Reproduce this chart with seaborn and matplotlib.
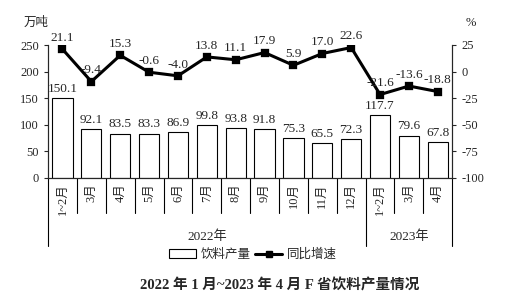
import numpy as np
import pandas as pd
import matplotlib.pyplot as plt
import seaborn as sns
from matplotlib.patches import Patch
from matplotlib.lines import Line2D

sns.set_style('ticks')
plt.rcParams['font.family'] = ['Liberation Serif', 'Noto Sans CJK SC']
plt.rcParams['axes.unicode_minus'] = False

months = ['1~2月', '3月', '4月', '5月', '6月', '7月', '8月', '9月', '10月', '11月', '12月',
          '1~2月', '3月', '4月']
years = ['2022年'] * 11 + ['2023年'] * 3
output = [150.1, 92.1, 83.5, 83.3, 86.9, 99.8, 93.8, 91.8, 75.3, 65.5, 72.3, 117.7, 79.6, 67.8]
growth = [21.1, -9.4, 15.3, -0.6, -4.0, 13.8, 11.1, 17.9, 5.9, 17.0, 22.6, -21.6, -13.6, -18.8]

df = pd.DataFrame({'key': [y + m for y, m in zip(years, months)],
                   'output': output, 'growth': growth})
n = len(df)

fig = plt.figure(figsize=(5.11, 3.0), dpi=100)
ax = fig.add_axes([0.094, 0.407, 0.791, 0.443])
sns.barplot(data=df, x='key', y='output', ax=ax, color='white', edgecolor='black',
            linewidth=0.8, width=0.7, saturation=1)
ax2 = ax.twinx()
sns.pointplot(data=df, x='key', y='growth', ax=ax2, color='black', markers='s',
              markersize=5, linewidth=2.2)

ax.set_ylim(0, 250)
ax.set_yticks(range(0, 251, 50))
ax2.set_ylim(-100, 25)
ax2.set_yticks(range(-100, 26, 25))
ax.set_xlim(-0.5, n - 0.5)
ax2.set_xlim(-0.5, n - 0.5)
for a in (ax, ax2):
    a.set_xlabel('')
    a.set_ylabel('')
    a.set_xticks([])
    a.spines['top'].set_visible(False)
    a.tick_params(labelsize=9, length=3, width=0.8)
    for s in a.spines.values():
        s.set_linewidth(0.8)

for i, v in enumerate(output):
    ax.text(i, v + 6, f'{v:.1f}', ha='center', va='bottom', fontsize=9.5)
for i, v in enumerate(growth):
    ax2.text(i, v + 5, f'{v:.1f}', ha='center', va='bottom', fontsize=9.5)

# category axis: months, separators, years
tr = ax.get_xaxis_transform()
for i, m in enumerate(months):
    ax.text(i, -0.04, m, rotation=90, ha='center', va='top', fontsize=9,
            transform=tr, clip_on=False)
group_edges = [0, 11, 14]
for b in range(n + 1):
    y1 = -0.51 if b in group_edges else -0.265
    ax.plot([b - 0.5, b - 0.5], [0, y1], color='black', lw=0.8, transform=tr, clip_on=False)
ax.text(5, -0.44, '2022年', ha='center', va='center', fontsize=9.5, transform=tr)
ax.text(12, -0.44, '2023年', ha='center', va='center', fontsize=9.5, transform=tr)

fig.text(0.07, 0.925, '万吨', ha='center', va='center', fontsize=9)
fig.text(0.922, 0.925, '%', ha='center', va='center', fontsize=9)

handles = [Patch(facecolor='white', edgecolor='black', linewidth=0.8),
           Line2D([], [], color='black', lw=2.2, marker='s', markersize=5)]
fig.legend(handles, ['饮料产量', '同比增速'], loc='center', bbox_to_anchor=(0.495, 0.15),
           ncol=2, frameon=False, fontsize=9, handlelength=2.2, handletextpad=0.4,
           columnspacing=0.3)

fig.text(0.548, 0.05, '2022 年 1 月~2023 年 4 月 F 省饮料产量情况', ha='center', va='center',
         fontsize=10.5, fontweight='bold')

fig.savefig('out.png', dpi=100)
